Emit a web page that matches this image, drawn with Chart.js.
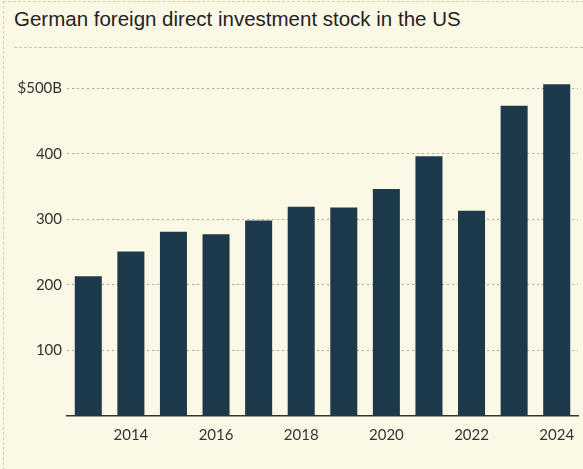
<!DOCTYPE html>
<html>
<head>
<meta charset="utf-8">
<script src="https://cdn.jsdelivr.net/npm/chart.js@4"></script>
<style>
  html, body { margin: 0; padding: 0; background: #fcf8e6; }
  #frame {
    position: absolute; left: 3px; top: 1px; width: 580px; height: 468px;
    border-left: 1px dashed #d6cfa8; border-top: 1px dashed #d6cfa8;
  }
  #title {
    position: absolute; left: 14px; top: 7px;
    font-family: "Liberation Sans", Arial, sans-serif; font-size: 20.5px; color: #222;
    white-space: nowrap;
  }
  #rule {
    position: absolute; left: 14px; top: 47px; width: 569px; height: 0;
    border-top: 1px dashed #c9c3ad;
  }
  #wrap { position: absolute; left: 0; top: 50px; width: 583px; height: 419px; }
  #myChart1 { display: block; }
</style>
</head>
<body>
<div id="frame"></div>
<div id="title">German foreign direct investment stock in the US</div>
<div id="rule"></div>
<div id="wrap"><canvas id="myChart1" width="583" height="419"></canvas></div>
<script>
  const years = ['2013', '2014', '2015', '2016', '2017', '2018', '2019', '2020', '2021', '2022', '2023', '2024'];
  const fdiStock = [213, 251, 281, 277, 298, 319, 318, 346, 396, 313, 473, 506];
  const yTicks = [0, 100, 200, 300, 400, 500];

  window.addEventListener('load', setup);

  function setup() {
    const ctx = document.getElementById('myChart1').getContext('2d');
    new Chart(ctx, {
      type: 'bar',
      data: {
        labels: years,
        datasets: [
          {
            label: 'FDI stock',
            data: fdiStock,
            backgroundColor: '#1d3a4b',
            borderWidth: 0,
            categoryPercentage: 1,
            barPercentage: 0.635
          }
        ]
      },
      options: {
        responsive: false,
        animation: false,
        events: [],
        layout: { padding: { left: 0, right: 5, top: 25, bottom: 0 } },
        plugins: { legend: { display: false }, tooltip: { enabled: false } },
        scales: {
          x: {
            afterFit: (axis) => { axis.height = 53; },
            grid: { display: false },
            border: { display: true, color: '#333', width: 1.5 },
            ticks: {
              autoSkip: false,
              maxRotation: 0,
              padding: 2,
              color: '#333',
              font: { family: 'Lato', size: 15 },
              callback: function (val, index) {
                return index % 2 === 1 ? years[index] : '';
              }
            }
          },
          y: {
            min: 0,
            max: 520,
            afterFit: (axis) => { axis.width = 67; },
            afterBuildTicks: (axis) => { axis.ticks = yTicks.map(v => ({ value: v })); },
            border: { display: false, dash: [2, 3] },
            grid: {
              color: (c) => c.tick && c.tick.value === 0 ? 'rgba(0,0,0,0)' : '#aaa596',
              lineWidth: 1,
              drawTicks: false
            },
            ticks: {
              autoSkip: false,
              padding: 5,
              color: '#333',
              font: { family: 'Lato', size: 15 },
              callback: function (val) {
                if (val === 0) return '';
                return val === 500 ? '$500B' : String(val);
              }
            }
          }
        }
      }
    });
  }
</script>
</body>
</html>
